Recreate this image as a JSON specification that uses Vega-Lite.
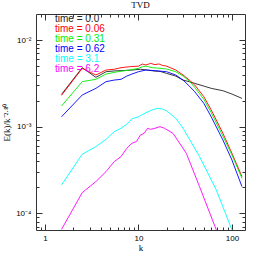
{
  "$schema": "https://vega.github.io/schema/vega-lite/v6.json",
  "width": 209,
  "height": 216,
  "autosize": {"type": "none"},
  "padding": {"left": 36, "top": 14, "right": 13, "bottom": 28},
  "background": "white",
  "config": {"view": {"stroke": "#333", "strokeWidth": 1}},
  "title": {"text": "TVD", "font": "Liberation Serif", "fontSize": 9, "fontWeight": "normal", "offset": 4, "color": "#000"},
  "data": {"values": [
    {"t":"0.0","k":1.5,"E":2.36e-3},{"t":"0.0","k":2.5,"E":4.8e-3},{"t":"0.0","k":3.5,"E":3.71e-3},{"t":"0.0","k":4.5,"E":4.31e-3},{"t":"0.0","k":5.5,"E":4.4e-3},{"t":"0.0","k":7,"E":4.45e-3},{"t":"0.0","k":8.5,"E":4.5e-3},{"t":"0.0","k":10.5,"E":4.6e-3},{"t":"0.0","k":12.5,"E":4.5e-3},{"t":"0.0","k":15,"E":4.38e-3},{"t":"0.0","k":17,"E":4.35e-3},{"t":"0.0","k":20,"E":4.12e-3},{"t":"0.0","k":25,"E":3.84e-3},{"t":"0.0","k":30,"E":3.45e-3},{"t":"0.0","k":35,"E":3.3e-3},{"t":"0.0","k":40,"E":3.16e-3},{"t":"0.0","k":50,"E":2.94e-3},{"t":"0.0","k":60,"E":2.77e-3},{"t":"0.0","k":80,"E":2.6e-3},{"t":"0.0","k":100,"E":2.38e-3},{"t":"0.0","k":128,"E":2.12e-3},
    {"t":"0.06","k":1.5,"E":2.3e-3},{"t":"0.06","k":2.5,"E":4.71e-3},{"t":"0.06","k":3.5,"E":3.95e-3},{"t":"0.06","k":4.5,"E":4.51e-3},{"t":"0.06","k":5.5,"E":4.6e-3},{"t":"0.06","k":6.5,"E":4.8e-3},{"t":"0.06","k":8,"E":4.92e-3},{"t":"0.06","k":10,"E":5.0e-3},{"t":"0.06","k":11,"E":5.28e-3},{"t":"0.06","k":12,"E":5.15e-3},{"t":"0.06","k":13.5,"E":5.38e-3},{"t":"0.06","k":15,"E":5.2e-3},{"t":"0.06","k":16.5,"E":5.3e-3},{"t":"0.06","k":18,"E":5.1e-3},{"t":"0.06","k":20,"E":5.0e-3},{"t":"0.06","k":25,"E":4.51e-3},{"t":"0.06","k":30,"E":3.95e-3},{"t":"0.06","k":35,"E":3.45e-3},{"t":"0.06","k":40,"E":3.03e-3},{"t":"0.06","k":50,"E":2.22e-3},{"t":"0.06","k":60,"E":1.56e-3},{"t":"0.06","k":80,"E":8.4e-4},{"t":"0.06","k":100,"E":4.92e-4},{"t":"0.06","k":128,"E":2.65e-4},
    {"t":"0.31","k":1.5,"E":1.73e-3},{"t":"0.31","k":2.5,"E":3.31e-3},{"t":"0.31","k":3.5,"E":3.52e-3},{"t":"0.31","k":4.5,"E":4.05e-3},{"t":"0.31","k":6,"E":4.31e-3},{"t":"0.31","k":8,"E":4.51e-3},{"t":"0.31","k":10,"E":4.71e-3},{"t":"0.31","k":11,"E":4.92e-3},{"t":"0.31","k":12,"E":5.0e-3},{"t":"0.31","k":14,"E":4.8e-3},{"t":"0.31","k":16,"E":4.75e-3},{"t":"0.31","k":20,"E":4.63e-3},{"t":"0.31","k":25,"E":4.31e-3},{"t":"0.31","k":30,"E":3.84e-3},{"t":"0.31","k":35,"E":3.36e-3},{"t":"0.31","k":40,"E":2.84e-3},{"t":"0.31","k":50,"E":2.07e-3},{"t":"0.31","k":60,"E":1.45e-3},{"t":"0.31","k":80,"E":7.8e-4},{"t":"0.31","k":100,"E":4.71e-4},{"t":"0.31","k":128,"E":2.53e-4},
    {"t":"0.62","k":1.5,"E":1.3e-3},{"t":"0.62","k":2.5,"E":2.32e-3},{"t":"0.62","k":3.5,"E":2.77e-3},{"t":"0.62","k":4.5,"E":3.31e-3},{"t":"0.62","k":5.5,"E":3.45e-3},{"t":"0.62","k":6.5,"E":3.52e-3},{"t":"0.62","k":7.5,"E":3.84e-3},{"t":"0.62","k":8.5,"E":4.05e-3},{"t":"0.62","k":10,"E":4.31e-3},{"t":"0.62","k":12,"E":4.51e-3},{"t":"0.62","k":15,"E":4.43e-3},{"t":"0.62","k":20,"E":4.31e-3},{"t":"0.62","k":25,"E":3.95e-3},{"t":"0.62","k":30,"E":3.45e-3},{"t":"0.62","k":35,"E":2.94e-3},{"t":"0.62","k":40,"E":2.53e-3},{"t":"0.62","k":50,"E":1.86e-3},{"t":"0.62","k":60,"E":1.3e-3},{"t":"0.62","k":80,"E":7.02e-4},{"t":"0.62","k":100,"E":4.12e-4},{"t":"0.62","k":128,"E":2.03e-4},
    {"t":"3.1","k":1.5,"E":2.12e-4},{"t":"3.1","k":2.5,"E":4.8e-4},{"t":"3.1","k":3.5,"E":5.88e-4},{"t":"3.1","k":4.5,"E":7.14e-4},{"t":"3.1","k":5.5,"E":8.75e-4},{"t":"3.1","k":6.5,"E":9.57e-4},{"t":"3.1","k":7.5,"E":1.07e-3},{"t":"3.1","k":8,"E":1.14e-3},{"t":"3.1","k":8.5,"E":1.23e-3},{"t":"3.1","k":10,"E":1.3e-3},{"t":"3.1","k":12,"E":1.45e-3},{"t":"3.1","k":14,"E":1.56e-3},{"t":"3.1","k":16,"E":1.63e-3},{"t":"3.1","k":18,"E":1.6e-3},{"t":"3.1","k":20,"E":1.52e-3},{"t":"3.1","k":25,"E":1.25e-3},{"t":"3.1","k":30,"E":9.57e-4},{"t":"3.1","k":45,"E":4.51e-4},{"t":"3.1","k":68,"E":1.86e-4},{"t":"3.1","k":100,"E":6.43e-5},{"t":"3.1","k":110,"E":4.5e-5},
    {"t":"6.2","k":1.5,"E":6.5e-5},{"t":"6.2","k":2.5,"E":1.73e-4},{"t":"6.2","k":3.5,"E":2.32e-4},{"t":"6.2","k":4.5,"E":3.03e-4},{"t":"6.2","k":5.5,"E":3.95e-4},{"t":"6.2","k":6.5,"E":4.51e-4},{"t":"6.2","k":7.5,"E":5.62e-4},{"t":"6.2","k":8.5,"E":6.43e-4},{"t":"6.2","k":9.5,"E":6.72e-4},{"t":"6.2","k":10.5,"E":8.01e-4},{"t":"6.2","k":11.5,"E":8.37e-4},{"t":"6.2","k":12.5,"E":9.57e-4},{"t":"6.2","k":13.5,"E":9.31e-4},{"t":"6.2","k":15,"E":9.57e-4},{"t":"6.2","k":17,"E":1.0e-3},{"t":"6.2","k":19,"E":9.57e-4},{"t":"6.2","k":23.4,"E":8.37e-4},{"t":"6.2","k":32.5,"E":4.92e-4},{"t":"6.2","k":45,"E":2.03e-4},{"t":"6.2","k":68,"E":6.43e-5},{"t":"6.2","k":75,"E":4.5e-5}
  ]},
  "resolve": {"axis": {"x": "independent", "y": "independent"}},
  "layer": [
    {
      "mark": {"type": "line", "clip": true, "strokeWidth": 0.9},
      "encoding": {
        "x": {"field": "k", "type": "quantitative",
          "scale": {"type": "log", "domain": [0.8, 138], "nice": false},
          "axis": {"orient": "bottom", "values": [1, 10, 100], "tickSize": -6, "tickColor": "#333", "domain": false, "grid": false,
            "labelFont": "Liberation Sans", "labelFontSize": 8, "labelColor": "#000", "labelPadding": 10,
            "title": "k", "titleFont": "Liberation Serif", "titleFontSize": 9, "titleFontWeight": "normal", "titleColor": "#000", "titlePadding": 1}},
        "y": {"field": "E", "type": "quantitative",
          "scale": {"type": "log", "domain": [6.4e-5, 0.02], "nice": false},
          "axis": {"orient": "left", "values": [0.0001, 0.001, 0.01], "tickSize": -6, "tickColor": "#333", "domain": false, "grid": false,
            "labelExpr": "datum.value < 0.0005 ? '10⁻⁴' : datum.value < 0.005 ? '10⁻³' : '10⁻²'",
            "labelFont": "Liberation Sans", "labelFontSize": 8, "labelColor": "#000", "labelPadding": 11,
            "title": "E(k)/k⁻²·⁸⁰", "titleFont": "Liberation Serif", "titleFontSize": 9, "titleFontWeight": "normal", "titleColor": "#000", "titlePadding": 4}},
        "color": {"field": "t", "type": "nominal",
          "scale": {"domain": ["0.0", "0.06", "0.31", "0.62", "3.1", "6.2"], "range": ["#222222", "#ff0000", "#00ee00", "#0000ff", "#00ffff", "#ff00ff"]},
          "legend": {"orient": "top-left", "offset": 0, "padding": 0, "title": null, "symbolSize": 0, "symbolOpacity": 0, "labelOffset": 9,
            "labelExpr": "'time = ' + datum.label", "labelFont": "Liberation Sans", "labelFontSize": 10, "rowPadding": -1,
            "encode": {"labels": {"update": {"fill": {"scale": "color", "field": "value"}}}}}}
      }
    },
    {
      "mark": {"type": "line", "opacity": 0},
      "encoding": {
        "x": {"field": "k", "type": "quantitative", "axis": {"orient": "bottom", "values": [0.9, 2, 3, 4, 5, 6, 7, 8, 9, 20, 30, 40, 50, 60, 70, 80, 90], "tickSize": -3, "tickColor": "#333", "labels": false, "domain": false, "grid": false, "title": null}},
        "y": {"field": "E", "type": "quantitative", "axis": {"orient": "left", "values": [0.00007, 0.00008, 0.00009, 0.0002, 0.0003, 0.0004, 0.0005, 0.0006, 0.0007, 0.0008, 0.0009, 0.002, 0.003, 0.004, 0.005, 0.006, 0.007, 0.008, 0.009], "tickSize": -3, "tickColor": "#333", "labels": false, "domain": false, "grid": false, "title": null}},
        "detail": {"field": "t"}
      }
    },
    {
      "mark": {"type": "line", "opacity": 0},
      "encoding": {
        "x": {"field": "k", "type": "quantitative", "axis": {"orient": "top", "values": [1, 10, 100], "tickSize": -6, "tickColor": "#333", "labels": false, "domain": false, "grid": false, "title": null}},
        "y": {"field": "E", "type": "quantitative", "axis": {"orient": "right", "values": [0.0001, 0.001, 0.01], "tickSize": -6, "tickColor": "#333", "labels": false, "domain": false, "grid": false, "title": null}},
        "detail": {"field": "t"}
      }
    },
    {
      "mark": {"type": "line", "opacity": 0},
      "encoding": {
        "x": {"field": "k", "type": "quantitative", "axis": {"orient": "top", "values": [0.9, 2, 3, 4, 5, 6, 7, 8, 9, 20, 30, 40, 50, 60, 70, 80, 90], "tickSize": -3, "tickColor": "#333", "labels": false, "domain": false, "grid": false, "title": null}},
        "y": {"field": "E", "type": "quantitative", "axis": {"orient": "right", "values": [0.00007, 0.00008, 0.00009, 0.0002, 0.0003, 0.0004, 0.0005, 0.0006, 0.0007, 0.0008, 0.0009, 0.002, 0.003, 0.004, 0.005, 0.006, 0.007, 0.008, 0.009], "tickSize": -3, "tickColor": "#333", "labels": false, "domain": false, "grid": false, "title": null}},
        "detail": {"field": "t"}
      }
    }
  ]
}
